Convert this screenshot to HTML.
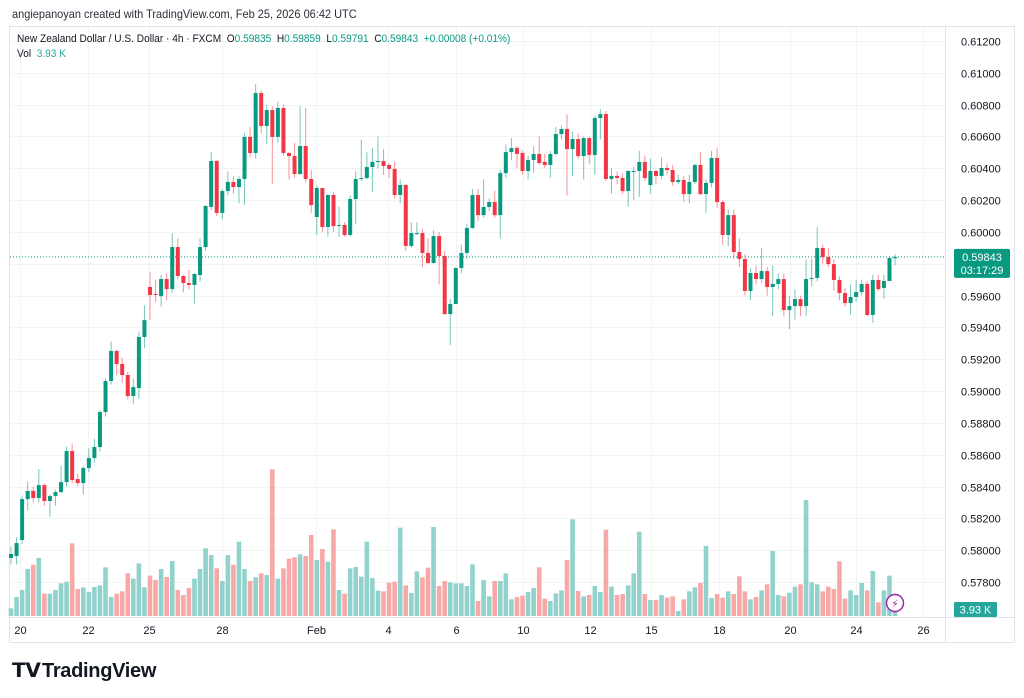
<!DOCTYPE html>
<html><head><meta charset="utf-8"><style>
html,body{margin:0;padding:0;background:#fff;width:1024px;height:698px;overflow:hidden;font-family:"Liberation Sans",sans-serif;}
#wrap{position:relative;width:1024px;height:698px;}
.t{position:absolute;white-space:nowrap;color:#131722;transform-origin:0 0;}
</style></head><body>
<div id="wrap">
<div class="t" style="left:12px;top:7px;font-size:12px;color:#2a2e39;transform:scaleX(0.915)">angiepanoyan created with TradingView.com, Feb 25, 2026 06:42 UTC</div>
<svg id="chart" width="1024" height="698" style="position:absolute;left:0;top:0"></svg>
<div class="t" style="left:17px;top:33px;font-size:11px;transform:scaleX(0.92)">New Zealand Dollar / U.S. Dollar · 4h · FXCM &nbsp;O<span style="color:#089981">0.59835</span> &nbsp;H<span style="color:#089981">0.59859</span> &nbsp;L<span style="color:#089981">0.59791</span> &nbsp;C<span style="color:#089981">0.59843</span> &nbsp;<span style="color:#089981">+0.00008 (+0.01%)</span></div>
<div class="t" style="left:17px;top:48px;font-size:11px;transform:scaleX(0.92)">Vol &nbsp;<span style="color:#26a69a">3.93 K</span></div>
<div class="t" style="left:12px;top:658px;font-size:20px;font-weight:bold;letter-spacing:-0.3px"><span style="display:inline-block;width:30px;font-size:20px;font-weight:900">𝗧𝗩</span>TradingView</div>
</div>
<script>
const opens=[.57951,.57963,.58064,.58321,.58372,.58328,.58409,.58309,.58340,.58365,.58428,.58623,.58447,.58422,.58516,.58579,.58648,.58868,.59063,.59252,.59170,.59101,.58969,.59019,.59340,.59654,.59610,.59597,.59704,.59641,.59905,.59723,.59679,.59667,.59729,.59905,.60157,.60446,.60119,.60257,.60314,.60282,.60333,.60597,.60496,.60873,.60666,.60766,.60597,.60779,.60496,.60477,.60364,.60540,.60333,.60094,.60276,.60031,.60232,.60044,.60044,.59981,.60207,.60339,.60339,.60408,.60440,.60446,.60421,.60396,.60232,.60295,.59912,.59993,.59993,.59868,.59805,.59974,.59849,.59484,.59547,.59773,.59868,.60025,.60232,.60106,.60157,.60188,.60106,.60370,.60502,.60527,.60496,.60383,.60452,.60490,.60440,.60421,.60490,.60615,.60647,.60521,.60584,.60477,.60590,.60484,.60716,.60741,.60333,.60352,.60339,.60257,.60383,.60383,.60440,.60295,.60383,.60352,.60402,.60389,.60314,.60326,.60238,.60314,.60421,.60238,.60308,.60465,.60188,.59981,.60106,.59874,.59830,.59629,.59742,.59704,.59754,.59654,.59673,.59704,.59509,.59534,.59578,.59534,.59704,.59711,.59899,.59842,.59798,.59698,.59616,.59553,.59591,.59622,.59673,.59478,.59698,.59648,.59692,.59835];
const closes=[.57976,.58045,.58321,.58372,.58328,.58409,.58309,.58340,.58365,.58428,.58623,.58441,.58422,.58516,.58579,.58648,.58868,.59063,.59252,.59170,.59101,.58969,.59025,.59340,.59446,.59604,.59604,.59704,.59641,.59905,.59723,.59679,.59667,.59736,.59905,.60163,.60446,.60119,.60257,.60314,.60282,.60333,.60597,.60496,.60873,.60666,.60766,.60597,.60779,.60496,.60477,.60364,.60540,.60333,.60169,.60276,.60031,.60232,.60037,.60044,.59981,.60207,.60333,.60339,.60408,.60440,.60446,.60414,.60396,.60232,.60295,.59912,.59993,.59993,.59868,.59805,.59974,.59849,.59484,.59547,.59773,.59868,.60025,.60232,.60106,.60157,.60188,.60106,.60370,.60502,.60527,.60490,.60383,.60452,.60490,.60433,.60421,.60490,.60615,.60647,.60521,.60584,.60477,.60590,.60484,.60716,.60741,.60333,.60352,.60339,.60257,.60383,.60383,.60440,.60339,.60383,.60352,.60402,.60389,.60314,.60326,.60238,.60314,.60421,.60238,.60308,.60465,.60188,.59981,.60106,.59874,.59830,.59629,.59742,.59704,.59754,.59654,.59673,.59704,.59509,.59534,.59578,.59534,.59704,.59711,.59899,.59842,.59798,.59698,.59616,.59553,.59591,.59622,.59673,.59478,.59698,.59641,.59692,.59836,.59843];
const highs=[.58020,.58080,.58340,.58430,.58400,.58510,.58420,.58350,.58380,.58530,.58650,.58670,.58480,.58530,.58640,.58700,.58880,.59080,.59310,.59260,.59210,.59120,.59080,.59370,.59540,.59750,.59700,.59730,.59740,.59990,.59960,.59730,.59760,.59740,.59960,.60170,.60500,.60450,.60270,.60380,.60350,.60350,.60620,.60660,.60930,.60890,.60800,.60790,.60820,.60800,.60500,.60560,.60790,.60780,.60390,.60290,.60280,.60240,.60250,.60160,.60060,.60230,.60380,.60580,.60500,.60530,.60600,.60520,.60430,.60440,.60330,.60300,.60060,.60060,.60020,.59960,.60010,.60000,.59880,.59580,.59780,.59920,.60050,.60270,.60270,.60330,.60210,.60260,.60390,.60550,.60590,.60540,.60510,.60480,.60540,.60600,.60490,.60510,.60660,.60670,.60740,.60630,.60620,.60600,.60600,.60730,.60770,.60760,.60400,.60380,.60370,.60390,.60410,.60510,.60480,.60460,.60390,.60470,.60430,.60420,.60360,.60350,.60360,.60430,.60500,.60330,.60510,.60530,.60200,.60140,.60140,.59960,.59860,.59770,.59790,.59900,.59780,.59790,.59740,.59740,.59600,.59640,.59600,.59830,.59830,.60030,.59920,.59900,.59830,.59720,.59650,.59670,.59700,.59700,.59690,.59730,.59730,.59730,.59850,.59859];
const lows=[.57910,.57910,.58040,.58250,.58300,.58300,.58280,.58210,.58280,.58360,.58400,.58420,.58400,.58350,.58490,.58550,.58620,.58840,.59040,.59100,.59050,.58950,.58920,.58950,.59270,.59450,.59560,.59530,.59570,.59620,.59700,.59620,.59640,.59550,.59690,.59880,.60140,.60100,.60080,.60230,.60240,.60180,.60170,.60470,.60460,.60620,.60550,.60300,.60560,.60480,.60330,.60340,.60360,.60310,.60120,.59980,.60000,.59970,.60000,.59970,.59970,.59970,.60050,.60320,.60330,.60250,.60400,.60360,.60340,.60210,.60180,.59880,.59900,.59980,.59780,.59800,.59800,.59670,.59480,.59290,.59690,.59740,.59830,.60020,.60070,.60090,.60130,.60090,.59960,.60340,.60450,.60400,.60360,.60330,.60370,.60420,.60400,.60340,.60480,.60580,.60230,.60350,.60460,.60330,.60430,.60360,.60580,.60320,.60240,.60300,.60240,.60160,.60200,.60220,.60320,.60240,.60300,.60330,.60360,.60290,.60300,.60190,.60180,.60300,.60230,.60120,.60280,.60150,.59920,.59910,.59830,.59780,.59600,.59570,.59670,.59680,.59600,.59470,.59640,.59470,.59390,.59450,.59470,.59470,.59660,.59690,.59800,.59780,.59630,.59570,.59530,.59480,.59560,.59600,.59470,.59430,.59630,.59580,.59830,.59791];
const volumes=[23,57,78,141,154,174,67,67,78,98,103,218,81,86,72,87,92,146,57,67,74,128,112,158,86,121,108,141,117,165,78,63,84,112,141,203,183,143,105,183,154,223,141,105,116,128,123,440,112,143,172,176,185,180,243,168,201,163,260,78,67,143,147,118,223,114,76,74,100,103,265,92,69,134,116,145,267,90,105,101,98,98,90,155,45,108,59,105,105,128,50,57,61,72,84,146,52,45,68,77,168,290,75,59,63,90,72,259,88,63,66,92,128,253,66,48,48,63,55,59,15,50,74,86,99,210,54,66,55,74,66,119,74,50,57,77,95,195,63,59,70,88,95,348,101,95,74,88,81,164,52,77,63,99,77,135,41,77,121,20];
const priceTicks=[0.612,0.610,0.608,0.606,0.604,0.602,0.600,0.598,0.596,0.594,0.592,0.590,0.588,0.586,0.584,0.582,0.580,0.578];
const dateLabels=["20","22","25","28","Feb","4","6","10","12","15","18","20","24","26"];
const dateIdx=[1.6,13.9,24.8,37.9,54.9,67.8,80.0,92.1,104.1,115.1,127.3,140.1,152.0,164.0];
const lastPrice=0.59843;

const svg=document.getElementById('chart');
const NS='http://www.w3.org/2000/svg';
const PL=10,PR=945,PT=27,PB=617;
const X=i=>11+i*5.56;
const Y=p=>41+(0.612-p)/0.034*541;
const VY=v=>616-v/3;
function mk(tag,a){const e=document.createElementNS(NS,tag);for(const k in a)e.setAttribute(k,a[k]);svg.appendChild(e);return e;}

let fr=mk('rect',{x:9.5,y:26.5,width:1005,height:616,fill:'none',stroke:'#e0e3eb'});


let sep=mk('line',{x1:PR+0.5,y1:27,x2:PR+0.5,y2:642,stroke:'#e0e3eb'});


let sep2=mk('line',{x1:10,y1:PB+0.5,x2:1014,y2:PB+0.5,stroke:'#e0e3eb'});



priceTicks.forEach(p=>{
  const y=Math.round(Y(p))+0.5;
  let g=mk('line',{x1:PL,y1:y,x2:PR,y2:y,stroke:'#f2f3f5'});
  
  
  let t=mk('text',{x:961,y:y+4,'font-size':11,fill:'#131722','font-family':'Liberation Sans, sans-serif'});
  t.textContent=p.toFixed(5);
  
  
});
dateIdx.forEach((d,k)=>{
  const x=Math.round(X(d))+0.5;
  let g=mk('line',{x1:x,y1:PT,x2:x,y2:PB,stroke:'#f2f3f5'});
  
  
  let t=mk('text',{x:x,y:634,'font-size':11,fill:'#131722','text-anchor':'middle','font-family':'Liberation Sans, sans-serif'});
  t.textContent=dateLabels[k];
  
  
});

volumes.forEach((v,i)=>{
  const up=closes[i]>=opens[i];
  let r=mk('rect',{x:X(i)-2.3,y:VY(v),width:4.6,height:v/3,fill:up?'#92d2cc':'#f7a9a7'});
  
  
});

const ly=Y(lastPrice);
let pl=mk('line',{x1:PL,y1:ly,x2:PR,y2:ly,stroke:'#089981','stroke-dasharray':'1 2','stroke-width':1});



opens.forEach((o,i)=>{
  const c=closes[i],up=c>=o,col=up?'#089981':'#f23645',x=X(i);
  let w=mk('line',{x1:x,y1:Y(highs[i]),x2:x,y2:Y(lows[i]),stroke:col,'stroke-opacity':0.55,'stroke-width':1});
  
  
  const t=Y(Math.max(o,c)),b=Y(Math.min(o,c));
  let r=mk('rect',{x:x-2,y:t,width:4,height:Math.max(1,b-t),fill:col});
  
  
});

let lb=mk('rect',{x:954,y:ly-8,width:56,height:29,rx:2,fill:'#089981'});


let lt=mk('text',{x:982,y:ly+4,'font-size':11,fill:'#fff','text-anchor':'middle','font-family':'Liberation Sans, sans-serif'});
lt.textContent=lastPrice.toFixed(5);


let lc=mk('text',{x:982,y:ly+17,'font-size':11,fill:'#fff','text-anchor':'middle','font-family':'Liberation Sans, sans-serif'});
lc.textContent='03:17:29';


let vb=mk('rect',{x:954,y:602,width:43,height:15,rx:1,fill:'#26a69a'});


let vt=mk('text',{x:975.5,y:613.5,'font-size':11,fill:'#fff','text-anchor':'middle','font-family':'Liberation Sans, sans-serif'});
vt.textContent='3.93 K';


let ic=mk('circle',{cx:895,cy:603,r:8.5,fill:'#fff',stroke:'#9c27b0','stroke-width':1.5});


let it=mk('text',{x:895,y:607.5,'font-size':11,fill:'#9c27b0','text-anchor':'middle','font-family':'DejaVu Sans, sans-serif'});
it.textContent='⚡';


</script>
</body></html>
